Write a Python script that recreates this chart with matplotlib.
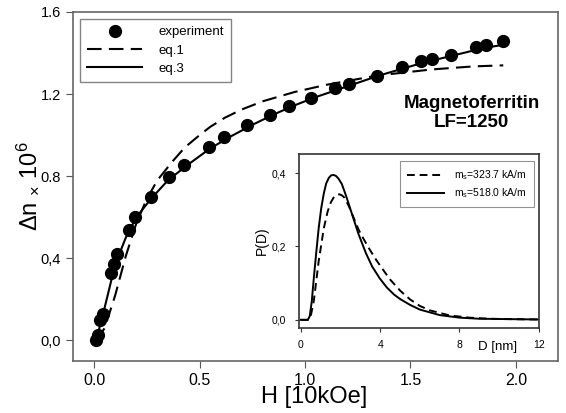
import matplotlib
matplotlib.use('Agg')
from matplotlib import pyplot as plt

plt.rcParams['font.family'] = ['Liberation Sans', 'DejaVu Sans']
plt.rcParams['mathtext.default'] = 'regular'

# experimental points, H [10kOe] vs dn x 10^6
H_exp = [0.01, 0.02, 0.03, 0.04, 0.08, 0.095, 0.11, 0.167, 0.195, 0.27,
         0.357, 0.427, 0.543, 0.616, 0.725, 0.832, 0.924, 1.03, 1.14, 1.21,
         1.34, 1.46, 1.55, 1.60, 1.69, 1.81, 1.86, 1.94]
dn_exp = [0.0, 0.025, 0.10, 0.13, 0.33, 0.37, 0.42, 0.54, 0.60, 0.70,
          0.795, 0.854, 0.94, 0.99, 1.05, 1.10, 1.14, 1.18, 1.23, 1.25,
          1.29, 1.33, 1.36, 1.37, 1.39, 1.43, 1.44, 1.46]

# eq.1 fit
H_eq1 = [0.01, 0.05, 0.10, 0.15, 0.20, 0.25, 0.30, 0.37, 0.43, 0.50, 0.55,
         0.62, 0.70, 0.80, 0.95, 1.10, 1.34, 1.60, 1.80, 1.94]
dn_eq1 = [0.0, 0.06, 0.22, 0.41, 0.57, 0.69, 0.78, 0.87, 0.94, 1.0, 1.04,
          1.085, 1.125, 1.165, 1.21, 1.245, 1.29, 1.32, 1.335, 1.34]

# eq.3 fit
H_eq3 = [0.01, 0.05, 0.10, 0.15, 0.20, 0.27, 0.35, 0.45, 0.55, 0.65, 0.75,
         0.85, 0.95, 1.05, 1.15, 1.25, 1.35, 1.45, 1.55, 1.65, 1.75, 1.85, 1.94]
dn_eq3 = [0.0, 0.16, 0.37, 0.50, 0.60, 0.69, 0.78, 0.86, 0.935, 0.995, 1.05,
          1.10, 1.145, 1.185, 1.22, 1.255, 1.29, 1.32, 1.35, 1.375, 1.40, 1.425, 1.44]

# inset: size distributions P(D)
D_a = [0.0, 0.4, 0.5, 0.66, 0.9, 1.16, 1.35, 1.51, 1.65, 1.76, 1.87, 1.97, 2.08,
       2.2, 2.42, 2.65, 2.92, 3.15, 3.4, 3.78, 4.1, 4.5, 5.0, 5.5, 6.0, 6.5,
       7.5, 8.5, 9.5, 10.5, 12.0]
P_a = [0.0, 0.0, 0.01, 0.054, 0.16, 0.25, 0.295, 0.32, 0.333, 0.339, 0.342, 0.342, 0.339,
       0.333, 0.31, 0.28, 0.245, 0.222, 0.198, 0.165, 0.14, 0.11, 0.08, 0.056, 0.038, 0.026,
       0.012, 0.006, 0.003, 0.002, 0.001]
D_b = [0.0, 0.35, 0.45, 0.55, 0.66, 0.78, 0.9, 1.03, 1.16, 1.28, 1.41, 1.53, 1.66,
       1.78, 1.9, 2.07, 2.3, 2.57, 2.9, 3.28, 3.6, 3.98, 4.34, 4.7, 5.0, 5.5,
       6.0, 7.0, 8.0, 9.0, 10.5, 12.0]
P_b = [0.0, 0.0, 0.01, 0.05, 0.117, 0.185, 0.25, 0.305, 0.345, 0.372, 0.387, 0.394, 0.395,
       0.392, 0.385, 0.37, 0.335, 0.29, 0.235, 0.182, 0.145, 0.113, 0.088, 0.069, 0.057, 0.041,
       0.028, 0.013, 0.006, 0.003, 0.002, 0.001]

fig = plt.figure(figsize=(5.66, 4.13), dpi=100)
ax = fig.add_axes([0.129, 0.126, 0.857, 0.845])

ax.plot(H_exp, dn_exp, 'o', color='black', markersize=8.5, label='experiment')
ax.plot(H_eq1, dn_eq1, color='black', lw=1.5, dashes=(7, 3.5), label='eq.1')
ax.plot(H_eq3, dn_eq3, color='black', lw=1.5, label='eq.3')

ax.set_xlim(-0.1, 2.2)
ax.set_ylim(-0.1, 1.6)
ax.set_xticks([0.0, 0.5, 1.0, 1.5, 2.0])
ax.set_xticklabels(['0.0', '0.5', '1.0', '1.5', '2.0'], fontsize=11.5)
ax.set_yticks([0.0, 0.4, 0.8, 1.2, 1.6])
ax.set_yticklabels(['0,0', '0,4', '0.8', '1.2', '1.6'], fontsize=10.5)
ax.tick_params(direction='out', length=5, color='#555555')
for s in ax.spines.values():
    s.set_color('#666666')
    s.set_linewidth(1.2)

fig.text(0.555, 0.038, 'H [10kOe]', fontsize=17, ha='center', va='center')
ax.set_ylabel(r'$\Delta$n $_{\times}$ 10$^{6}$', fontsize=17, labelpad=0)

leg = ax.legend(loc='upper left', bbox_to_anchor=(0.014, 0.98), borderaxespad=0,
                fancybox=False, edgecolor='#666666', fontsize=9.5, handlelength=4.2,
                borderpad=0.55, labelspacing=0.45, handletextpad=1.2)
leg.get_frame().set_linewidth(1.0)

ax.text(1.79, 1.107, 'Magnetoferritin\nLF=1250', fontsize=13.5, fontweight='bold',
        ha='center', va='center', linespacing=1.15)

# inset
ins = fig.add_axes([0.528, 0.206, 0.424, 0.421])
ins.plot(D_a, P_a, color='black', lw=1.4, dashes=(4, 2.5), label=r'm$_s$=323.7 kA/m')
ins.plot(D_b, P_b, color='black', lw=1.4, label=r'm$_s$=518.0 kA/m')
ins.set_xlim(-0.1, 12)
ins.set_ylim(-0.022, 0.452)
ins.set_xticks([0, 4, 8, 12])
ins.set_xticklabels(['0', '4', '8', '12'], fontsize=7.5)
ins.set_yticks([0.0, 0.2, 0.4])
ins.set_yticklabels(['0,0', '0,2', '0,4'], fontsize=7.5)
ins.tick_params(direction='out', length=3, color='#333333', pad=6)
for s in ins.spines.values():
    s.set_color('#333333')
    s.set_linewidth(1.2)
ins.set_ylabel('P(D)', fontsize=10, labelpad=2)
ins.text(0.83, -0.11, 'D [nm]', fontsize=9.5, transform=ins.transAxes,
         ha='center', va='center')
ileg = ins.legend(loc='upper right', bbox_to_anchor=(0.979, 0.96), borderaxespad=0,
                  fancybox=False, edgecolor='#777777', fontsize=7.5, handlelength=3.5,
                  borderpad=0.7, labelspacing=0.4, handletextpad=1.0)
ileg.get_frame().set_linewidth(0.8)

plt.savefig('out.png', dpi=100)
plt.close()
